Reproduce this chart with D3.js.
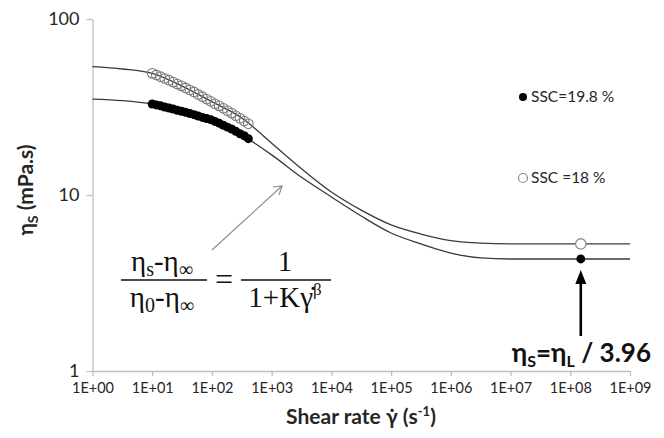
<!DOCTYPE html>
<html><head><meta charset="utf-8">
<script src="https://cdn.jsdelivr.net/npm/d3@7"></script>
<style>body{margin:0;background:#fff}svg{display:block}</style>
</head><body><svg id="c" width="664" height="438"></svg>
<script>
// ---- data ----
const shearTicks = [1, 10, 100, 1e3, 1e4, 1e5, 1e6, 1e7, 1e8, 1e9];
const shearTickLabels = ["1E+00","1E+01","1E+02","1E+03","1E+04","1E+05","1E+06","1E+07","1E+08","1E+09"];
const viscTicks = [1, 10, 100];
const viscTickLabels = ["1", "10", "100"];

const seriesNames = ["SSC=19.8 %", "SSC =18 %"];

// measured points (shear rate, s-1)
const measShear = [10, 11.7, 13.8, 16.2, 19.1, 22.4, 26.3, 30.9, 36.3, 42.7, 50.1, 58.9,
                   69.2, 81.3, 95.5, 112, 132, 155, 182, 214, 251, 295, 347, 407];
const measSSC198 = [32.9, 32.5, 32.1, 31.6, 31.2, 30.8, 30.3, 29.9, 29.5, 29.0, 28.6, 28.1,
                    27.6, 27.2, 26.8, 26.2, 25.6, 24.9, 24.3, 23.7, 23.0, 22.3, 21.7, 20.9];
const measSSC18  = [49.1, 48.1, 47.0, 45.9, 44.9, 43.8, 42.7, 41.7, 40.6, 39.5, 38.5, 37.3,
                    36.2, 35.1, 34.1, 33.0, 32.1, 31.1, 30.1, 29.2, 28.2, 27.3, 26.3, 25.4];

// model curves
const fitShear  = [1, 3.16, 10, 31.6, 100, 316, 1000, 3162, 1e4, 3.16e4, 1e5, 3.16e5, 1e6, 3.16e6, 1e7, 1e8, 1e9];
const fitSSC198 = [35.1, 34.4, 32.9, 30.0, 26.7, 21.9, 16.9, 12.6, 9.75, 7.6, 6.08, 5.27, 4.68, 4.39, 4.33, 4.33, 4.33];
const fitSSC18  = [53.6, 52.0, 49.1, 41.6, 33.9, 27.4, 19.7, 14.1, 10.4, 8.2, 6.76, 6.0, 5.51, 5.33, 5.28, 5.27, 5.27];

// high-shear limit points
const limShear = [1.5e8];
const limSSC198 = [4.33];
const limSSC18 = [5.27];

// ---- chart ----
const svg = d3.select("#c");
const F = "Lato, 'Open Sans', sans-serif";
const x = d3.scaleLog().domain([1, 1e9]).range([92.5, 630]);
const y = d3.scaleLog().domain([1, 100]).range([371, 19]);

// axes
const xa = svg.append("g").attr("transform", "translate(0,371)")
  .call(d3.axisBottom(x).tickValues(shearTicks).tickFormat((d, i) => shearTickLabels[i]).tickSize(5).tickSizeOuter(0));
const ya = svg.append("g").attr("transform", "translate(92.5,0)")
  .call(d3.axisLeft(y).tickValues(viscTicks).tickFormat((d, i) => viscTickLabels[i]).tickSize(6).tickSizeOuter(0));
[xa, ya].forEach(a => {
  a.select(".domain").attr("stroke", "#bfbfbf").attr("stroke-width", 1.3);
  a.selectAll(".tick line").attr("stroke", "#bfbfbf").attr("stroke-width", 1.3);
  a.selectAll(".tick text").attr("fill", "#262626").attr("font-family", F);
});
xa.selectAll(".tick text").attr("font-size", 14.5).attr("dy", "0.95em");
ya.selectAll(".tick text").attr("font-size", 18).attr("x", -13);

// curves
const line = d3.line().x(d => x(d[0])).y(d => y(d[1])).curve(d3.curveMonotoneX);
[fitSSC198, fitSSC18].forEach(vals => {
  svg.append("path").datum(fitShear.map((s, i) => [s, vals[i]]))
    .attr("d", line).attr("fill", "none").attr("stroke", "#3a3a3a").attr("stroke-width", 1.3);
});

// measured points
svg.append("g").selectAll("circle").data(measShear.map((s, i) => [s, measSSC18[i]])).join("circle")
  .attr("cx", d => x(d[0])).attr("cy", d => y(d[1])).attr("r", 4.8)
  .attr("fill", "none").attr("stroke", "#7a7a7a").attr("stroke-width", 1.1);
svg.append("g").selectAll("circle").data(measShear.map((s, i) => [s, measSSC198[i]])).join("circle")
  .attr("cx", d => x(d[0])).attr("cy", d => y(d[1])).attr("r", 4.5).attr("fill", "#000");

// limit points
svg.append("g").selectAll("circle").data(limShear.map((s, i) => [s, limSSC18[i]])).join("circle")
  .attr("cx", d => x(d[0])).attr("cy", d => y(d[1])).attr("r", 5.2)
  .attr("fill", "#fff").attr("stroke", "#8c8c8c").attr("stroke-width", 1.3);
svg.append("g").selectAll("circle").data(limShear.map((s, i) => [s, limSSC198[i]])).join("circle")
  .attr("cx", d => x(d[0])).attr("cy", d => y(d[1])).attr("r", 4.4).attr("fill", "#000");

// legend
const lg = svg.append("g").attr("font-family", F).attr("font-size", 15.5).attr("fill", "#262626");
lg.append("circle").attr("cx", 523).attr("cy", 97).attr("r", 4).attr("fill", "#000");
lg.append("text").attr("x", 531).attr("y", 97).attr("dy", "0.35em").text(seriesNames[0]);
lg.append("circle").attr("cx", 523).attr("cy", 178).attr("r", 4.5).attr("fill", "#fff").attr("stroke", "#8c8c8c").attr("stroke-width", 1.2);
lg.append("text").attr("x", 531).attr("y", 178).attr("dy", "0.35em").text(seriesNames[1]);

// axis titles
const xt = svg.append("text").attr("x", 361).attr("y", 424).attr("text-anchor", "middle")
  .attr("font-family", F).attr("font-weight", "bold").attr("font-size", 21).attr("fill", "#262626");
xt.append("tspan").text("Shear rate γ\u0307 (s");
xt.append("tspan").attr("font-size", 13).attr("dy", -8).text("-1");
xt.append("tspan").attr("dy", 8).text(")");

const yt = svg.append("text").attr("transform", "translate(33,190) rotate(-90)").attr("text-anchor", "middle")
  .attr("font-family", F).attr("font-weight", "bold").attr("font-size", 21).attr("fill", "#262626");
yt.append("tspan").text("η");
yt.append("tspan").attr("font-size", 14).attr("dy", 5).text("S");
yt.append("tspan").attr("dy", -5).text(" (mPa.s)");

// equation
const S = "'Liberation Serif', 'DejaVu Serif', serif";
const eq = svg.append("g").attr("font-family", S).attr("font-size", 29).attr("fill", "#111");
function frac(cx, x0, x1, numParts, denParts) {
  eq.append("line").attr("x1", x0).attr("x2", x1).attr("y1", 280).attr("y2", 280).attr("stroke", "#111").attr("stroke-width", 1.7);
  const n = eq.append("text").attr("x", cx).attr("y", 271).attr("text-anchor", "middle");
  numParts.forEach(p => n.append("tspan").attr("font-size", p[1] || 29).attr("dy", p[2] || 0).text(p[0]));
  const d = eq.append("text").attr("x", cx).attr("y", 307).attr("text-anchor", "middle");
  denParts.forEach(p => d.append("tspan").attr("font-size", p[1] || 29).attr("dy", p[2] || 0).text(p[0]));
}
frac(162, 121, 207, [["η"], ["s", 20, 5], ["-η", 29, -5], ["∞", 20, 5]], [["η"], ["0", 20, 5], ["-η", 29, -5], ["∞", 20, 5]]);
eq.append("text").attr("x", 224).attr("y", 290).attr("text-anchor", "middle").attr("font-size", 32).text("=");
frac(285, 241, 331, [["1"]], [["1+Kγ\u0307"], ["β", 17, -12]]);

// thin grey arrow to curve
svg.append("line").attr("x1", 212).attr("y1", 250).attr("x2", 282).attr("y2", 186)
  .attr("stroke", "#8a8a8a").attr("stroke-width", 1.1);
svg.append("path").attr("d", "M273,187 L282,186 L279,195").attr("fill", "none").attr("stroke", "#8a8a8a").attr("stroke-width", 1.1);

// black arrow to limit point
const ax = x(limShear[0]);
svg.append("line").attr("x1", ax).attr("x2", ax).attr("y1", 336).attr("y2", 282).attr("stroke", "#000").attr("stroke-width", 2.6);
svg.append("path").attr("d", `M${ax - 5.5},284 L${ax},270 L${ax + 5.5},284 Z`).attr("fill", "#000");

const an = svg.append("text").attr("x", 651).attr("y", 362).attr("text-anchor", "end")
  .attr("font-family", F).attr("font-weight", "bold").attr("font-size", 26).attr("fill", "#111");
an.append("tspan").text("η");
an.append("tspan").attr("font-size", 16).attr("dy", 5).text("S");
an.append("tspan").attr("dy", -5).text("=η");
an.append("tspan").attr("font-size", 16).attr("dy", 5).text("L");
an.append("tspan").attr("dy", -5).text(" / 3.96");
</script></body></html>
